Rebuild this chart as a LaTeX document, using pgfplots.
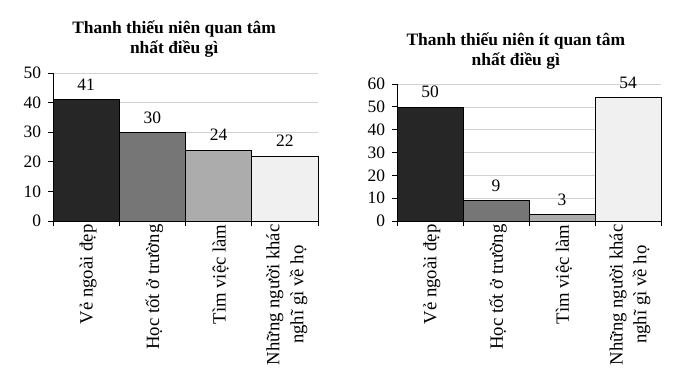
\documentclass[border=0pt]{standalone}
\usepackage{fontspec}
\setmainfont{Liberation Serif}
\usepackage{pgfplots}
\pgfplotsset{compat=1.18}
\definecolor{cA}{RGB}{38,38,38}
\definecolor{cB}{RGB}{118,118,118}
\definecolor{cC}{RGB}{172,172,172}
\definecolor{cD}{RGB}{240,240,240}
\pgfplotsset{
  mybars/.style={
    scale only axis, clip=false,
    axis lines*=left,
    axis line style={black, line width=0.8bp},
    xmin=0, xmax=4, ymin=0,
    xtick={0,1,2,3,4}, xticklabels={},
    extra x ticks={0.5,1.5,2.5,3.5},
    extra x tick labels={{Vẻ ngoài đẹp},{Học tốt ở trường},{Tìm việc làm},{Những người khác\\nghĩ gì về họ}},
    extra x tick style={major tick length=0pt,
      xticklabel style={rotate=90, anchor=east, align=center, yshift=-2bp,
        font=\fontsize{18.8}{24}\selectfont}},
    tick align=outside, major tick length=5bp,
    tick style={black, line width=0.8bp},
    ymajorgrids, grid style={gray!35, line width=0.6bp},
    yticklabel style={font=\fontsize{17.5}{19}\selectfont, xshift=-3.5bp},
    /pgf/number format/assume math mode=true,
    every axis plot/.append style={ybar, bar width=1, bar shift=0pt, draw=black, line width=0.6bp,
      nodes near coords, nodes near coords style={font=\fontsize{17.5}{19}\selectfont, anchor=base, yshift=9bp, text=black}},
  }
}
\begin{document}
\begin{tikzpicture}
\useasboundingbox (0bp,0bp) rectangle (685bp,373bp);
\begin{axis}[mybars, at={(53bp,152bp)}, anchor=south west, width=265bp, height=148bp,
  ymax=50, ytick={0,10,20,30,40,50}]
\addplot[fill=cA] coordinates {(0.5,41)};
\addplot[fill=cB] coordinates {(1.5,30)};
\addplot[fill=cC] coordinates {(2.5,24)};
\addplot[fill=cD] coordinates {(3.5,22)};
\node[font=\bfseries\fontsize{17.5}{20}\selectfont, align=center, anchor=south]
  at ([yshift=12bp]rel axis cs:0.457,1) {Thanh thiếu niên quan tâm\\nhất điều gì};
\end{axis}
\begin{axis}[mybars, at={(397bp,152bp)}, anchor=south west, width=264bp, height=137bp,
  ymax=60, ytick={0,10,20,30,40,50,60}]
\addplot[fill=cA] coordinates {(0.5,50)};
\addplot[fill=cB] coordinates {(1.5,9)};
\addplot[fill=cC] coordinates {(2.5,3)};
\addplot[fill=cD] coordinates {(3.5,54)};
\node[font=\bfseries\fontsize{17.5}{20}\selectfont, align=center, anchor=south]
  at ([yshift=11bp]rel axis cs:0.45,1) {Thanh thiếu niên ít quan tâm\\nhất điều gì};
\end{axis}
\end{tikzpicture}
\end{document}
